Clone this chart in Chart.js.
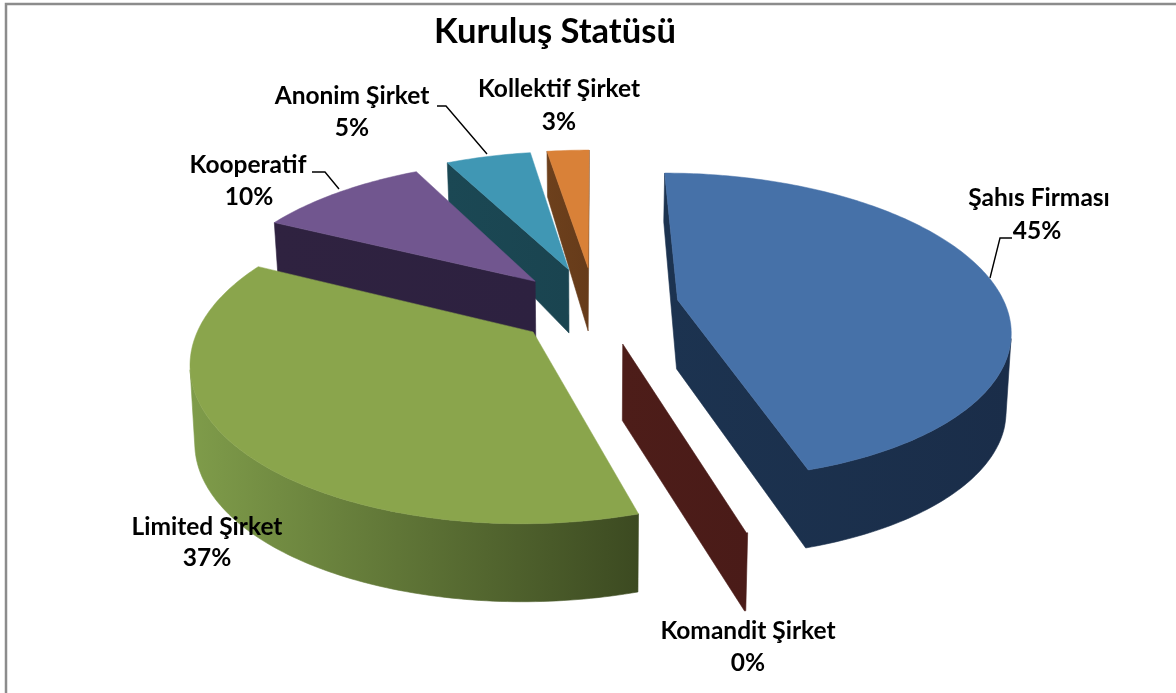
<!DOCTYPE html>
<html>
<head>
<meta charset="utf-8">
<style>html,body{margin:0;padding:0;background:#fff}#w{width:1176px;height:693px;position:relative}</style>
<script src="https://cdn.jsdelivr.net/npm/chart.js@4"></script>
</head>
<body>
<div id="w"><canvas id="c"></canvas></div>
<script>
const categories = ['Şahıs Firması','Komandit Şirket','Limited Şirket','Kooperatif','Anonim Şirket','Kollektif Şirket'];
const shares = [45.3, 0.05, 37.0, 10.1, 5.05, 2.5];
const explode = [27.5, 24, 21, 26, 28, 28];
const topColors = ['#4671a8','#aa4643','#8aa54c','#71568f','#4097b4','#d98138'];
const wallLight = ['#1c3350','#4d1d19','#7f9c4a','#2f2240','#1b4854','#6d401c'];
const wallDark  = ['#1a2d49','#4a1b18','#3c4a21','#2d2140','#1a4450','#663b1a'];

const labelLayout = [[1039,198,1037,231],[748,631,748,663],[207,527,207,558],[248,165,249,197],[352,96,352,128],[559,89,559,122]];
const leaders = [[[1012,238],[1000,238],[990,278]],[[312,172],[325,172],[339,189]],[[437,106],[446,106],[487,154]]];
const nudgeX = [-1, 9, -3, 4, 6, 5];
const nudgeY = [-2, 0, 3, 0, 0, 0];
const view = {cx:590, y0:308, horizon:-566, D:5.8, R:328, wall:70, wallPow:2.2, wallMax:78, converge:0.012};

function project(X,Y,dx,dy){
  const s = view.D/(view.D+Y);
  const H = view.y0-view.horizon;
  const t = [view.cx+view.R*s*X+dx, view.horizon+H*s+dy];
  const w = Math.min(view.wallMax, view.wall*Math.pow(s,view.wallPow));
  const b = [t[0]-(t[0]-view.cx)*view.converge, t[1]+w];
  return {t,b};
}
function outline(el,e,dx,dy){
  const mid=(el.startAngle+el.endAngle)/2;
  const ox=Math.cos(mid)*e, oy=-Math.sin(mid)*e;
  const pts=[project(ox,oy,dx,dy)];
  const n=Math.max(2,Math.ceil((el.endAngle-el.startAngle)/(Math.PI/180)));
  for(let i=0;i<=n;i++){
    const a=el.startAngle+(el.endAngle-el.startAngle)*i/n;
    pts.push(project(ox+Math.cos(a),oy-Math.sin(a),dx,dy));
  }
  return pts;
}
function area(p){let A=0;for(let i=0;i<p.length;i++){const q=p[(i+1)%p.length];A+=p[i][0]*q[1]-q[0]*p[i][1];}return A;}
const pie3d = {
  id:'pie3d',
  beforeDraw(chart){
    const c=chart.ctx;c.save();c.strokeStyle='#8c8c8c';c.lineWidth=2.5;
    c.beginPath();c.moveTo(6,693);c.lineTo(6,4);c.lineTo(1176,4);c.stroke();c.restore();
  },
  beforeDatasetDraw(chart){
    const c=chart.ctx, els=chart.getDatasetMeta(0).data;
    const order=els.map((el,i)=>i).sort((a,b)=>{
      const ma=(els[a].startAngle+els[a].endAngle)/2, mb=(els[b].startAngle+els[b].endAngle)/2;
      return Math.sin(ma)-Math.sin(mb);
    });
    c.save();c.lineJoin='round';
    for(const i of order){
      const el=els[i], pts=outline(el,el.options.offset/100,nudgeX[i],nudgeY[i]);
      const A=area(pts.map(p=>p.t));
      const xs=pts.map(p=>p.t[0]);
      const g=c.createLinearGradient(Math.min(...xs),0,Math.max(...xs),0);
      g.addColorStop(0,wallLight[i]);g.addColorStop(1,wallDark[i]);
      // contiguous runs of visible wall edges become one polygon
      const N=pts.length, vis=[];
      for(let k=0;k<N;k++){
        const P=pts[k],Q=pts[(k+1)%N];
        vis.push(area([P.t,Q.t,Q.b,P.b])*A<0);
      }
      c.fillStyle=g;c.strokeStyle=g;c.lineWidth=0.6;
      let start=vis.findIndex((v,k)=>!v);
      if(start<0)start=0;
      let run=[];
      const flush=()=>{
        if(!run.length)return;
        const top=run.map(p=>p.t),bot=run.map(p=>p.b).reverse();
        c.beginPath();top.concat(bot).forEach((p,j)=>j?c.lineTo(p[0],p[1]):c.moveTo(p[0],p[1]));c.closePath();c.fill();c.stroke();
        run=[];
      };
      for(let m=1;m<=N;m++){
        const k=(start+m)%N;
        if(vis[k]){ if(!run.length)run.push(pts[k]); run.push(pts[(k+1)%N]); }
        else flush();
      }
      flush();
      if(shares[i]>1){
        c.fillStyle=topColors[i];c.strokeStyle=topColors[i];c.lineWidth=0.5;
        c.beginPath();pts.forEach((p,j)=>j?c.lineTo(p.t[0],p.t[1]):c.moveTo(p.t[0],p.t[1]));c.closePath();c.fill();c.stroke();
      }
    }
    c.restore();
    return false;
  },
  afterDraw(chart){
    const c=chart.ctx;c.save();
    c.strokeStyle='#000';c.lineWidth=1.4;
    for(const l of leaders){c.beginPath();l.forEach((p,j)=>j?c.lineTo(p[0],p[1]):c.moveTo(p[0],p[1]));c.stroke();}
    c.fillStyle='#000';c.font='bold 24.5px Lato';c.textAlign='center';c.textBaseline='middle';
    const total=shares.reduce((a,b)=>a+b,0);
    categories.forEach((n,i)=>{
      const L=labelLayout[i];
      c.fillText(n,L[0],L[1]);
      c.fillText(Math.round(shares[i]/total*100)+'%',L[2],L[3]);
    });
    c.restore();
  }
};
new Chart(document.getElementById('c'),{
  type:'pie',
  data:{labels:categories,datasets:[{data:shares,backgroundColor:topColors,offset:explode,borderWidth:0}]},
  options:{
    responsive:true,maintainAspectRatio:false,animation:false,
    layout:{padding:{right:66}},
    plugins:{
      legend:{display:false},tooltip:{enabled:false},
      title:{display:true,text:'Kuruluş Statüsü',color:'#000',fullSize:false,font:{family:'Lato',size:34.6,weight:'bold'},padding:{top:11,bottom:6}}
    }
  },
  plugins:[pie3d]
});
</script>
</body>
</html>
